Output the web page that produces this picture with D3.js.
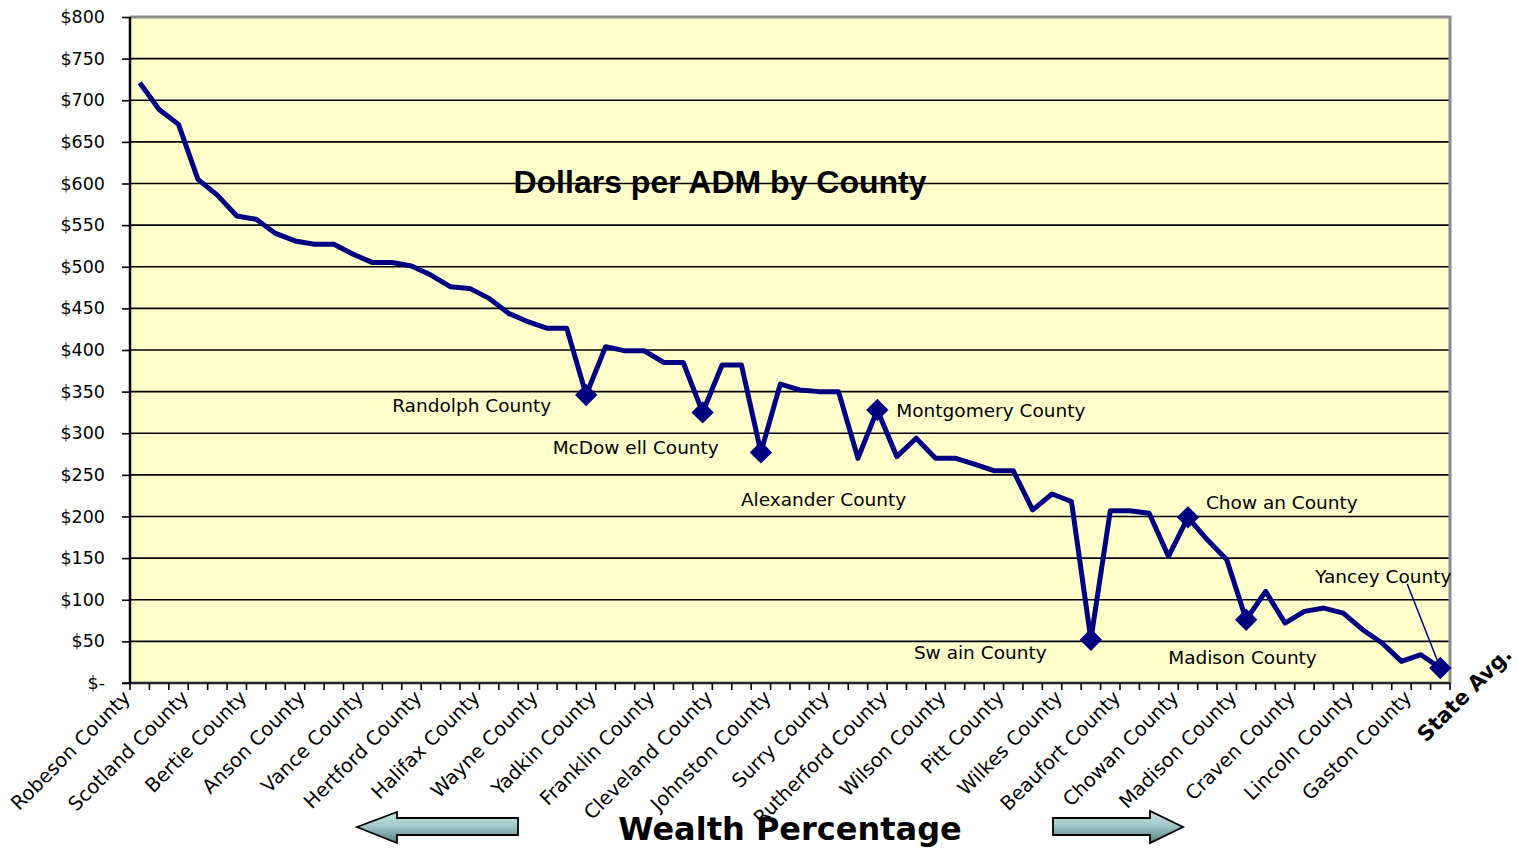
<!DOCTYPE html>
<meta charset="utf-8">
<script src="https://cdn.jsdelivr.net/npm/d3@7"></script>
<head>
<style>
    body { margin: 0; background: #fff; }
    text { font-family: "DejaVu Sans", sans-serif; }
</style>
</head>
<body>
<script>

    // dollars per ADM, one value per county, ordered by wealth (last = state avg)
    var values = [
        721, 689, 671, 605, 586, 561, 557, 540, 531, 527,
        527, 515, 505, 505, 501, 490, 476, 474, 462, 444,
        434, 426, 426, 346, 404, 399, 399, 385, 385, 325,
        382, 382, 277, 359, 352, 350, 350, 270, 328, 272,
        294, 270, 270, 263, 255, 255, 208, 227, 218, 52,
        207, 207, 204, 152, 199, 172, 148, 76, 110, 72,
        86, 90, 84, 64, 48, 26, 34, 18
    ];

    // every third category gets a label on the axis
    var tickLabels = [
        "Robeson County", "Scotland County", "Bertie County", "Anson County",
        "Vance County", "Hertford County", "Halifax County", "Wayne County",
        "Yadkin County", "Franklin County", "Cleveland County", "Johnston County",
        "Surry County", "Rutherford County", "Wilson County", "Pitt County",
        "Wilkes County", "Beaufort County", "Chowan County", "Madison County",
        "Craven County", "Lincoln County", "Gaston County"
    ];
    var labelStep = 3;

    var yTicks = [0, 50, 100, 150, 200, 250, 300, 350, 400, 450, 500, 550, 600, 650, 700, 750, 800];

    // highlighted counties (index into values)
    var markedNames = ["Randolph County", "McDow ell County", "Alexander County", "Montgomery County",
                       "Sw ain County", "Chow an County", "Madison County", "Yancey County"];
    var markedIndex = [23, 29, 32, 38, 49, 54, 57, 67];

    var width = 1518, height = 850;
    var pLeft = 130, pRight = 1450, pTop = 17, pBottom = 683;

    var svg = d3.select("body").append("svg")
        .attr("width", width)
        .attr("height", height);

    var defs = svg.append("defs");
    var grad = defs.append("linearGradient")
        .attr("id", "arrowGrad")
        .attr("x1", 0).attr("y1", 0).attr("x2", 0).attr("y2", 1);
    grad.append("stop").attr("offset", "0%").attr("stop-color", "#c4e4e4");
    grad.append("stop").attr("offset", "45%").attr("stop-color", "#a3c8c9");
    grad.append("stop").attr("offset", "100%").attr("stop-color", "#5a7f80");

    var x = d3.scaleBand()
        .domain(d3.range(values.length))
        .range([pLeft, pRight])
        .padding(0);

    var y = d3.scaleLinear()
        .domain([0, 800])
        .range([pBottom, pTop]);

    function cx(i) { return x(i) + x.bandwidth() / 2; }

    // plot area
    svg.append("rect")
        .attr("x", pLeft)
        .attr("y", pTop)
        .attr("width", pRight - pLeft)
        .attr("height", pBottom - pTop)
        .style("fill", "#ffffcc");

    // grid lines
    svg.append("g")
        .selectAll("line")
        .data(yTicks.filter(function(d) { return d > 0 && d < 800; }))
        .enter()
        .append("line")
        .attr("x1", pLeft)
        .attr("x2", pRight)
        .attr("y1", function(d) { return y(d); })
        .attr("y2", function(d) { return y(d); })
        .style("stroke", "#000")
        .style("stroke-width", 1.6);

    // gray frame on top / right / bottom
    svg.append("path")
        .attr("d", "M" + pLeft + "," + pTop + "H" + pRight + "V" + pBottom + "H" + pLeft)
        .style("fill", "none")
        .style("stroke", "#8c8c8c")
        .style("stroke-width", 3);

    // y axis
    var yAxis = d3.axisLeft(y)
        .tickValues(yTicks)
        .tickSize(8)
        .tickFormat(function(d) { return d === 0 ? "$-" : "$" + d; });

    var gy = svg.append("g")
        .attr("transform", "translate(" + pLeft + ",0)")
        .call(yAxis);
    gy.select(".domain").remove();
    gy.append("line")
        .attr("x1", 0).attr("x2", 0)
        .attr("y1", pTop).attr("y2", pBottom)
        .style("stroke", "#000")
        .style("stroke-width", 2.5);
    gy.selectAll(".tick line").style("stroke", "#000").style("stroke-width", 1.6);
    gy.selectAll(".tick text")
        .attr("x", -25)
        .style("font-family", "'DejaVu Sans', sans-serif")
        .style("font-size", "17.5px")
        .style("fill", "#000");

    // x axis: tick marks on category boundaries
    var boundaries = d3.range(values.length + 1);
    svg.append("g")
        .selectAll("line")
        .data(boundaries)
        .enter()
        .append("line")
        .attr("x1", function(d) { return pLeft + d * x.bandwidth(); })
        .attr("x2", function(d) { return pLeft + d * x.bandwidth(); })
        .attr("y1", pBottom)
        .attr("y2", pBottom + 7)
        .style("stroke", "#000")
        .style("stroke-width", 1.6);
    svg.append("line")
        .attr("x1", pLeft - 8).attr("x2", pRight)
        .attr("y1", pBottom).attr("y2", pBottom)
        .style("stroke", "#000")
        .style("stroke-width", 1.6);

    svg.append("g")
        .selectAll("text")
        .data(tickLabels)
        .enter()
        .append("text")
        .attr("transform", function(d, i) {
            return "translate(" + (cx(i * labelStep) - 13) + "," + (pBottom + 11) + ") rotate(-45)";
        })
        .attr("text-anchor", "end")
        .attr("dy", "0.35em")
        .style("font-size", "19.5px")
        .text(function(d) { return d; });

    svg.append("text")
        .attr("transform", "translate(1426,743) rotate(-45)")
        .attr("text-anchor", "start")
        .style("font-size", "21px")
        .style("font-weight", "bold")
        .text("State Avg.");

    // line
    var line = d3.line()
        .x(function(d, i) { return cx(i); })
        .y(function(d) { return y(d); });

    svg.append("path")
        .datum(values)
        .attr("d", line)
        .style("fill", "none")
        .style("stroke", "#000080")
        .style("stroke-width", 5)
        .style("stroke-linejoin", "round");

    // diamond markers
    svg.append("g")
        .selectAll("path")
        .data(markedIndex)
        .enter()
        .append("path")
        .attr("d", d3.symbol().type(d3.symbolSquare).size(250))
        .attr("transform", function(d) {
            return "translate(" + cx(d) + "," + y(values[d]) + ") rotate(45)";
        })
        .style("fill", "#000080");

    // labels next to the marked counties (offsets from the marker)
    var labelOffsets = [[-194, 11], [-150, 35], [-20, 47], [19, 1], [-177, 13], [18, -15], [-78, 38], [-125, -91]];
    svg.append("g")
        .selectAll("text")
        .data(markedNames)
        .enter()
        .append("text")
        .attr("x", function(d, i) { return cx(markedIndex[i]) + labelOffsets[i][0]; })
        .attr("y", function(d, i) { return y(values[markedIndex[i]]) + labelOffsets[i][1]; })
        .attr("dy", "0.35em")
        .style("font-size", "18.5px")
        .text(function(d) { return d; });

    // leader for Yancey County
    var yi = markedIndex[7];
    svg.append("line")
        .attr("x1", cx(yi) - 33).attr("y1", y(values[yi]) - 84)
        .attr("x2", cx(yi)).attr("y2", y(values[yi]))
        .style("stroke", "#000080")
        .style("stroke-width", 1.5);

    // title
    svg.append("text")
        .attr("x", 720)
        .attr("y", 182)
        .attr("dy", "0.35em")
        .attr("text-anchor", "middle")
        .style("font-family", "'Liberation Sans', Arial, sans-serif")
        .style("font-size", "32px")
        .style("font-weight", "bold")
        .text("Dollars per ADM by County");

    // axis caption with arrows
    svg.append("text")
        .attr("x", 790)
        .attr("y", 829)
        .attr("dy", "0.35em")
        .attr("text-anchor", "middle")
        .style("font-size", "32px")
        .style("font-weight", "bold")
        .text("Wealth Percentage");

    var leftArrow = [[357, 827], [397, 812], [397, 818], [518, 818], [518, 835], [397, 835], [397, 843]];
    var rightArrow = [[1053, 818], [1150, 818], [1150, 811], [1183, 827], [1150, 843], [1150, 835], [1053, 835]];
    svg.selectAll(".arrow")
        .data([leftArrow, rightArrow])
        .enter()
        .append("path")
        .attr("class", "arrow")
        .attr("d", function(d) { return "M" + d.join("L") + "Z"; })
        .style("fill", "url(#arrowGrad)")
        .style("stroke", "#000")
        .style("stroke-width", 1.8);

</script>
</body>
</html>
